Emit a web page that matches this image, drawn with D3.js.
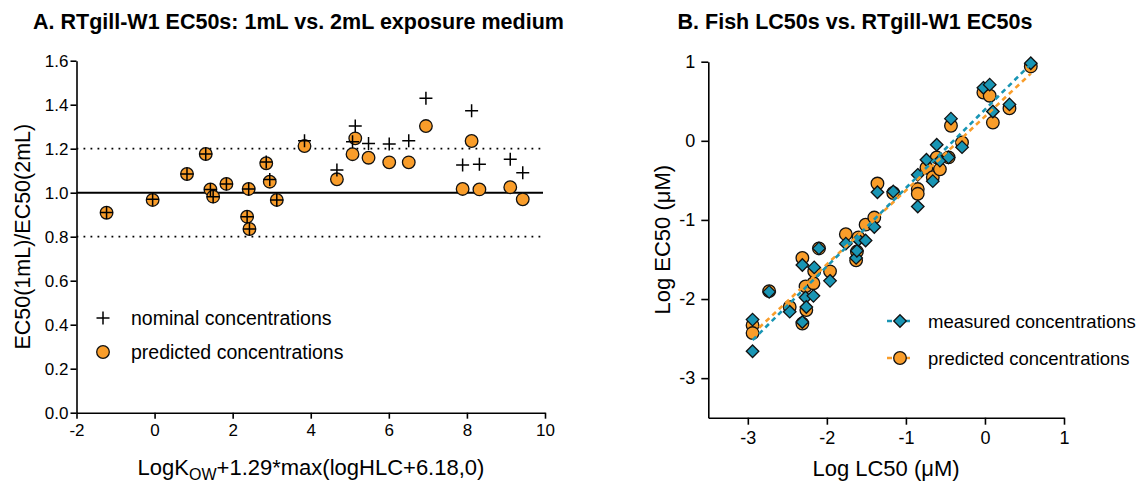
<!DOCTYPE html>
<html>
<head>
<meta charset="utf-8">
<script src="https://cdn.jsdelivr.net/npm/d3@7"></script>
<style>
  body { margin: 0; background: #fff; }
  svg { font-family: "Liberation Sans", Arial, sans-serif; }
  .axis path, .axis line { stroke: #000; stroke-width: 1.6; }
  .axis text { font-size: 17px; fill: #000; font-family: "Liberation Sans", Arial, sans-serif; }
</style>
</head>
<body>
<svg id="chart" width="1143" height="485"></svg>
<script>
// Panel A: 1mL / 2mL ratios
const kowX = [-1.23, -0.05, 0.83, 1.31, 1.43, 1.50, 1.84, 2.41, 2.37, 2.43, 2.86, 2.95, 3.13, 3.84,
              4.67, 5.07, 5.14, 5.48, 6.01, 6.51, 6.95, 7.89, 8.12, 8.32, 9.11, 9.43];
const ratioNominal = [0.91, 0.97, 1.085, 1.176, 1.015, 0.982, 1.04, 1.017, 0.891, 0.835, 1.14, 1.06, 0.967, 1.236,
                      1.103, 1.232, 1.303, 1.224, 1.221, 1.236, 1.429, 1.126, 1.373, 1.129, 1.152, 1.091];
const ratioPredicted = [0.909, 0.967, 1.085, 1.176, 1.015, 0.982, 1.04, 1.017, 0.891, 0.835, 1.134, 1.05, 0.967, 1.212,
                        1.061, 1.175, 1.247, 1.159, 1.138, 1.138, 1.303, 1.017, 1.235, 1.015, 1.025, 0.97];
const refLines = [0.8, 1.0, 1.2];
const xTicksA = [-2, 0, 2, 4, 6, 8, 10];
const yTicksA = [0, 0.2, 0.4, 0.6, 0.8, 1.0, 1.2, 1.4, 1.6];

// Panel B: fish LC50 vs RTgill-W1 EC50
const logLC50 = [-2.94, -2.94, -2.73, -2.47, -2.31, -2.31, -2.27, -2.26, -2.17, -2.16, -2.10, -1.96,
                 -1.76, -1.63, -1.62, -1.60, -1.51, -1.40, -1.36, -1.16, -0.85, -0.85, -0.74, -0.66,
                 -0.61, -0.57, -0.46, -0.43, -0.29, -0.02, 0.06, 0.10, 0.31, 0.58];
const ec50Measured = [-2.26, -2.66, -1.91, -2.16, -1.57, -2.29, -1.98, -2.10, -1.96, -1.60, -1.36, -1.77,
                      -1.30, -1.48, -1.39, -1.25, -1.26, -1.09, -0.65, -0.64, -0.43, -0.83, -0.24, -0.51,
                      -0.05, -0.25, -0.21, 0.28, -0.08, 0.67, 0.71, 0.37, 0.46, 0.98];
const ec50Predicted = [-2.33, -2.43, -1.90, -2.10, -1.48, -2.31, -1.84, -2.14, -1.80, -1.65, -1.36, -1.65,
                       -1.18, -1.51, -1.40, -1.22, -1.06, -0.97, -0.54, -0.66, -0.61, -0.67, -0.34, -0.46,
                       -0.21, -0.36, -0.21, 0.19, -0.02, 0.61, 0.57, 0.23, 0.41, 0.94];
const fitMeasured = [[-2.94, -2.52], [0.58, 0.97]];
const fitPredicted = [[-2.94, -2.44], [0.58, 0.85]];
const xTicksB = [-3, -2, -1, 0, 1];
const yTicksB = [-3, -2, -1, 0, 1];

const ORANGE = "#f99d2a", TEAL = "#1995b4";
const hyphen = f => d => f(d).replace("\u2212", "-");

const svg = d3.select("#chart");

// ---------- Panel A ----------
const xA = d3.scaleLinear().domain([-2, 10]).range([76.5, 545]);
const yA = d3.scaleLinear().domain([0, 1.6]).range([412.7, 60.7]);

svg.append("text").attr("x", 33).attr("y", 29)
  .attr("font-size", 21.5).attr("font-weight", "bold")
  .text("A. RTgill-W1 EC50s: 1mL vs. 2mL exposure medium");

const gA = svg.append("g");

gA.selectAll("line.ref").data(refLines).enter().append("line")
  .attr("x1", xA(-2)).attr("x2", xA(10) - 2)
  .attr("y1", d => yA(d)).attr("y2", d => yA(d))
  .attr("stroke", "#000")
  .attr("stroke-width", d => d === 1 ? 2 : 1.8)
  .attr("stroke-dasharray", d => d === 1 ? null : "1.8,5.2");

gA.append("g").attr("class", "axis")
  .attr("transform", `translate(0,${yA(0)})`)
  .call(d3.axisBottom(xA).tickValues(xTicksA).tickFormat(hyphen(d3.format("d")))
    .tickSize(6).tickPadding(5).tickSizeOuter(0));
gA.append("g").attr("class", "axis")
  .attr("transform", `translate(${xA(-2)},0)`)
  .call(d3.axisLeft(yA).tickValues(yTicksA).tickFormat(d3.format(".1f")).tickSize(6).tickPadding(2).tickSizeOuter(0));

const ptsA = kowX.map((x, i) => ({x, n: ratioNominal[i], p: ratioPredicted[i]}));

gA.selectAll("circle.pred").data(ptsA).enter().append("circle")
  .attr("cx", d => xA(d.x)).attr("cy", d => yA(d.p)).attr("r", 6.3)
  .attr("fill", ORANGE).attr("stroke", "#111").attr("stroke-width", 1.3);

const plus = (g, cx, cy, s) => g.append("path")
  .attr("d", `M${cx - s},${cy}H${cx + s}M${cx},${cy - s}V${cy + s}`)
  .attr("stroke", "#000").attr("stroke-width", 1.5).attr("fill", "none");
ptsA.forEach(d => plus(gA, xA(d.x), yA(d.n), 6.5));

// legend A
plus(gA, 103, 318, 6.5);
gA.append("circle").attr("cx", 103).attr("cy", 352).attr("r", 6.3)
  .attr("fill", ORANGE).attr("stroke", "#111").attr("stroke-width", 1.3);
gA.append("text").attr("x", 131).attr("y", 325).attr("font-size", 19.5).text("nominal concentrations");
gA.append("text").attr("x", 131).attr("y", 359).attr("font-size", 19.5).text("predicted concentrations");

// axis labels A
const xlabA = svg.append("text").attr("x", 311).attr("y", 475).attr("text-anchor", "middle").attr("font-size", 22);
xlabA.append("tspan").text("LogK");
xlabA.append("tspan").attr("dy", 5).attr("font-size", 16).text("OW");
xlabA.append("tspan").attr("dy", -5).text("+1.29*max(logHLC+6.18,0)");

svg.append("text").attr("transform", `translate(30,${(yA(0) + yA(1.6)) / 2}) rotate(-90)`)
  .attr("text-anchor", "middle").attr("font-size", 21.5).text("EC50(1mL)/EC50(2mL)");

// ---------- Panel B ----------
const xB = d3.scaleLinear().domain([-3.5, 1]).range([708.3, 1064]);
const yB = d3.scaleLinear().domain([-3.5, 1]).range([417.7, 61.7]);

svg.append("text").attr("x", 855).attr("y", 29).attr("text-anchor", "middle")
  .attr("font-size", 21.5).attr("font-weight", "bold")
  .text("B. Fish LC50s vs. RTgill-W1 EC50s");

const gB = svg.append("g");

gB.append("g").attr("class", "axis")
  .attr("transform", `translate(0,${yB(-3.5)})`)
  .call(d3.axisBottom(xB).tickValues(xTicksB).tickFormat(hyphen(d3.format("d")))
    .tickSize(7).tickPadding(7).tickSizeOuter(0));
gB.append("g").attr("class", "axis")
  .attr("transform", `translate(${xB(-3.5)},0)`)
  .call(d3.axisLeft(yB).tickValues(yTicksB).tickFormat(hyphen(d3.format("d")))
    .tickSize(7).tickPadding(6).tickSizeOuter(0));
gB.selectAll(".axis text").style("font-size", "18px");

const ptsB = logLC50.map((x, i) => ({x, m: ec50Measured[i], p: ec50Predicted[i]}));
const diamond = d3.symbol().type(d3.symbolDiamond2).size(100);

const line = d3.line().x(d => xB(d[0])).y(d => yB(d[1]));

const mk = gB.append("g");
ptsB.forEach(d => {
  mk.append("circle").attr("cx", xB(d.x)).attr("cy", yB(d.p)).attr("r", 6.3)
    .attr("fill", ORANGE).attr("stroke", "#111").attr("stroke-width", 1.3);
});
ptsB.forEach(d => {
  mk.append("path").attr("d", diamond)
    .attr("transform", `translate(${xB(d.x)},${yB(d.m)})`)
    .attr("fill", TEAL).attr("stroke", "#111").attr("stroke-width", 1.3);
});

gB.append("path").datum(fitPredicted).attr("d", line)
  .attr("stroke", ORANGE).attr("stroke-width", 2.6).attr("fill", "none").attr("stroke-dasharray", "5,4");
gB.append("path").datum(fitMeasured).attr("d", line)
  .attr("stroke", TEAL).attr("stroke-width", 2.6).attr("fill", "none").attr("stroke-dasharray", "5,4");

// legend B
const legB = [
  {label: "measured concentrations", color: TEAL, shape: "d", y: 321},
  {label: "predicted concentrations", color: ORANGE, shape: "c", y: 358}
];
legB.forEach(l => {
  gB.append("line").attr("x1", 887).attr("x2", 913).attr("y1", l.y).attr("y2", l.y)
    .attr("stroke", l.color).attr("stroke-width", 2.6).attr("stroke-dasharray", "5,4");
  if (l.shape === "d") {
    gB.append("path").attr("d", diamond).attr("transform", `translate(900,${l.y})`)
      .attr("fill", l.color).attr("stroke", "#111").attr("stroke-width", 1.3);
  } else {
    gB.append("circle").attr("cx", 900).attr("cy", l.y).attr("r", 6.3)
      .attr("fill", l.color).attr("stroke", "#111").attr("stroke-width", 1.3);
  }
  gB.append("text").attr("x", 928).attr("y", l.y + 7).attr("font-size", 18.5).text(l.label);
});

svg.append("text").attr("x", 886).attr("y", 476).attr("text-anchor", "middle")
  .attr("font-size", 22).text("Log LC50 (\u03bcM)");
svg.append("text").attr("transform", `translate(670,${(yB(-3.5) + yB(1)) / 2}) rotate(-90)`)
  .attr("text-anchor", "middle").attr("font-size", 22).text("Log EC50 (\u03bcM)");
</script>
</body>
</html>
